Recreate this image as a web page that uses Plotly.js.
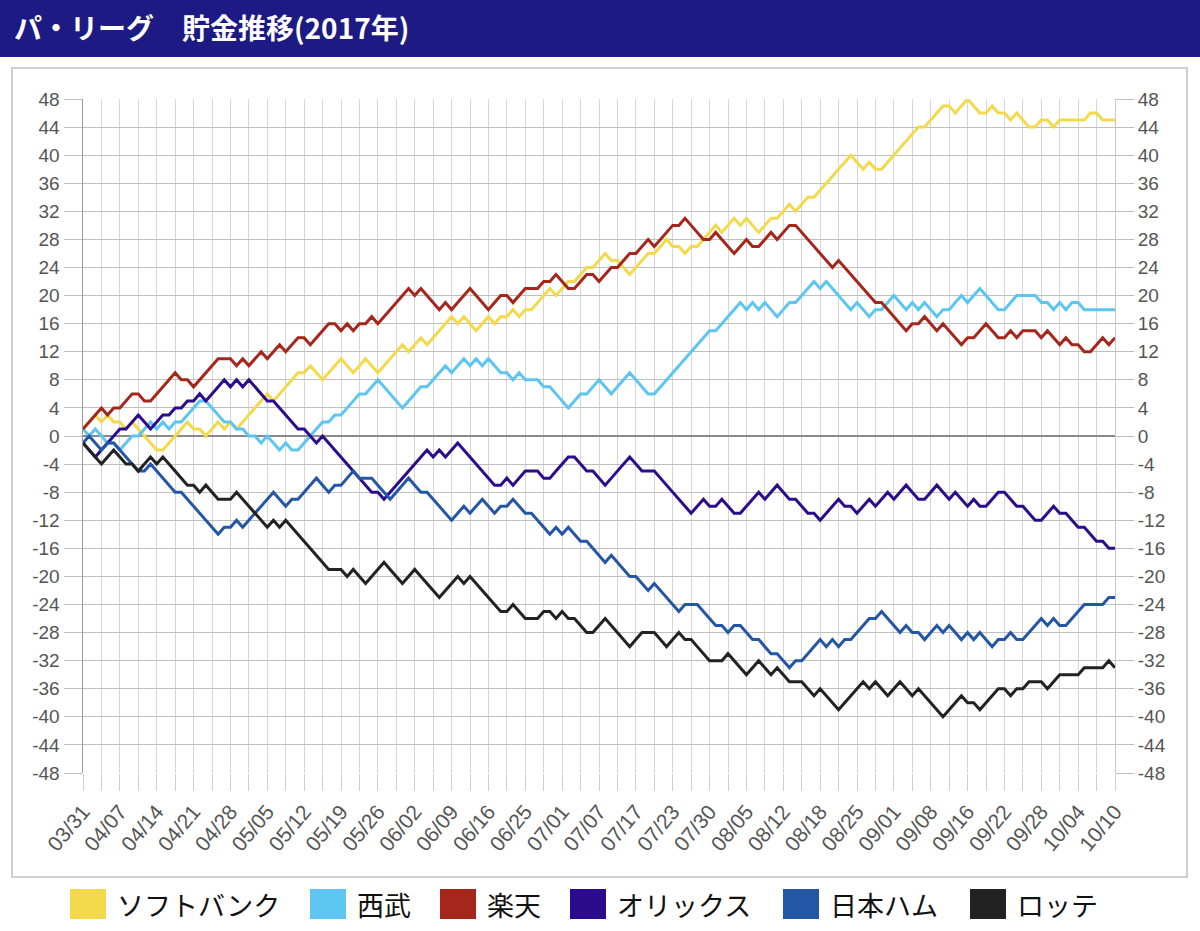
<!DOCTYPE html>
<html>
<head>
<meta charset="utf-8">
<script src="https://cdn.plot.ly/plotly-3.0.1.min.js"></script>
<style>
html,body{margin:0;padding:0;background:#fff;}
#chart{width:1200px;height:931px;}
</style>
</head>
<body>
<div id="chart"></div>
<script>
// ---- data ----
const titleText = "パ・リーグ　貯金推移(2017年)";
const dateLabels = ["03/31","04/07","04/14","04/21","04/28","05/05","05/12","05/19","05/26","06/02",
  "06/09","06/16","06/25","07/01","07/07","07/17","07/23","07/30","08/05","08/12",
  "08/18","08/25","09/01","09/08","09/16","09/22","09/28","10/04","10/10"];
const teamNames = ["ソフトバンク","西武","楽天","オリックス","日本ハム","ロッテ"];
const yTicks = [-48,-44,-40,-36,-32,-28,-24,-20,-16,-12,-8,-4,0,4,8,12,16,20,24,28,32,36,40,44,48];

const softbank = [
  1,2,3,2,3,2,2,1,2,1,
  0,-1,-2,-2,-1,0,1,2,1,1,
  0,1,2,1,2,1,2,3,4,5,
  6,5,6,7,8,9,9,10,9,8,
  9,10,11,10,9,10,11,10,9,10,
  11,12,13,12,13,14,13,14,15,16,
  17,16,17,16,15,16,17,16,17,17,
  18,17,18,18,19,20,21,20,21,22,
  22,23,24,24,25,26,25,25,24,23,
  24,25,26,26,27,28,27,27,26,27,
  27,28,29,30,29,30,31,30,31,30,
  29,30,31,31,32,33,32,33,34,34,
  35,36,37,38,39,40,39,38,39,38,
  38,39,40,41,42,43,44,44,45,46,
  47,47,46,47,48,47,46,46,47,46,
  46,45,46,45,44,44,45,45,44,45,
  45,45,45,45,46,46,45,45,45];
const seibu = [
  1,0,1,0,-1,-1,-2,-1,0,0,
  1,2,1,2,1,2,2,3,4,5,
  5,4,3,2,2,1,1,0,0,-1,
  0,-1,-2,-1,-2,-2,-1,0,1,2,
  2,3,3,4,5,6,6,7,8,7,
  6,5,4,5,6,7,7,8,9,10,
  9,10,11,10,11,10,11,10,9,9,
  8,9,8,8,8,7,7,6,5,4,
  5,6,6,7,8,7,6,7,8,9,
  8,7,6,6,7,8,9,10,11,12,
  13,14,15,15,16,17,18,19,18,19,
  18,19,18,17,18,19,19,20,21,22,
  21,22,21,20,19,18,19,18,17,18,
  18,19,20,19,18,19,18,19,18,17,
  18,18,19,20,19,20,21,20,19,18,
  18,19,20,20,20,20,19,19,18,19,
  18,19,19,18,18,18,18,18,18];
const rakuten = [
  1,2,3,4,3,4,4,5,6,6,
  5,5,6,7,8,9,8,8,7,8,
  9,10,11,11,11,10,11,10,11,12,
  11,12,13,12,13,14,14,13,14,15,
  16,16,15,16,15,16,16,17,16,17,
  18,19,20,21,20,21,20,19,18,19,
  18,19,20,21,20,19,18,19,20,20,
  19,20,21,21,21,22,22,23,22,21,
  21,22,23,23,22,23,24,24,25,26,
  26,27,28,27,28,29,30,30,31,30,
  29,28,28,29,28,27,26,27,28,27,
  27,28,29,28,29,30,30,29,28,27,
  26,25,24,25,24,23,22,21,20,19,
  19,18,17,16,15,16,16,17,16,15,
  16,15,14,13,14,14,15,16,15,14,
  14,15,14,15,15,15,14,15,14,13,
  14,13,13,12,12,13,14,13,14];
const orix = [
  -1,-2,-3,-2,-1,0,1,1,2,3,
  2,1,2,3,3,4,4,5,5,6,
  5,6,7,8,7,8,7,8,7,6,
  5,5,4,3,2,1,1,0,-1,0,
  -1,-2,-3,-4,-5,-6,-7,-8,-8,-9,
  -8,-7,-6,-5,-4,-3,-2,-3,-2,-3,
  -2,-1,-2,-3,-4,-5,-6,-7,-7,-6,
  -7,-6,-5,-5,-5,-6,-6,-5,-4,-3,
  -3,-4,-5,-5,-6,-7,-6,-5,-4,-3,
  -4,-5,-5,-5,-6,-7,-8,-9,-10,-11,
  -10,-9,-10,-10,-9,-10,-11,-11,-10,-9,
  -8,-9,-8,-7,-8,-9,-9,-10,-11,-11,
  -12,-11,-10,-9,-10,-10,-11,-10,-9,-10,
  -9,-8,-9,-8,-7,-8,-9,-9,-8,-7,
  -8,-9,-8,-9,-10,-9,-10,-10,-9,-8,
  -8,-9,-10,-10,-11,-12,-12,-11,-10,-11,
  -11,-12,-13,-13,-14,-15,-15,-16,-16];
const nipponham = [
  -1,0,-1,-2,-1,-1,-2,-3,-4,-5,
  -5,-4,-5,-6,-7,-8,-8,-9,-10,-11,
  -12,-13,-14,-13,-13,-12,-13,-12,-11,-10,
  -9,-8,-9,-10,-9,-9,-8,-7,-6,-7,
  -8,-7,-7,-6,-5,-6,-6,-6,-7,-8,
  -9,-8,-7,-6,-7,-8,-8,-9,-10,-11,
  -12,-11,-10,-11,-10,-9,-10,-11,-10,-10,
  -9,-10,-11,-11,-12,-13,-14,-13,-14,-13,
  -14,-15,-15,-16,-17,-18,-17,-18,-19,-20,
  -20,-21,-22,-21,-22,-23,-24,-25,-24,-24,
  -24,-25,-26,-27,-27,-28,-27,-27,-28,-29,
  -29,-30,-31,-31,-32,-33,-32,-32,-31,-30,
  -29,-30,-29,-30,-29,-29,-28,-27,-26,-26,
  -25,-26,-27,-28,-27,-28,-28,-29,-28,-27,
  -28,-27,-28,-29,-28,-29,-28,-29,-30,-29,
  -29,-28,-29,-29,-28,-27,-26,-27,-26,-27,
  -27,-26,-25,-24,-24,-24,-24,-23,-23];
const lotte = [
  -1,-2,-3,-4,-3,-2,-3,-4,-4,-5,
  -4,-3,-4,-3,-4,-5,-6,-7,-7,-8,
  -7,-8,-9,-9,-9,-8,-9,-10,-11,-12,
  -13,-12,-13,-12,-13,-14,-15,-16,-17,-18,
  -19,-19,-19,-20,-19,-20,-21,-20,-19,-18,
  -19,-20,-21,-20,-19,-20,-21,-22,-23,-22,
  -21,-20,-21,-20,-21,-22,-23,-24,-25,-25,
  -24,-25,-26,-26,-26,-25,-25,-26,-25,-26,
  -26,-27,-28,-28,-27,-26,-27,-28,-29,-30,
  -29,-28,-28,-28,-29,-30,-29,-28,-29,-29,
  -30,-31,-32,-32,-32,-31,-32,-33,-34,-33,
  -32,-33,-34,-33,-34,-35,-35,-35,-36,-37,
  -36,-37,-38,-39,-38,-37,-36,-35,-36,-35,
  -36,-37,-36,-35,-36,-37,-36,-37,-38,-39,
  -40,-39,-38,-37,-38,-38,-39,-38,-37,-36,
  -36,-37,-36,-36,-35,-35,-35,-36,-35,-34,
  -34,-34,-34,-33,-33,-33,-33,-32,-33];

// ---- styles / layout constants ----
const teamColors = ["#f3d94b","#5cc5f1","#a5261b","#2c0b8c","#2456a6","#222222"];
const series = [softbank, seibu, rakuten, orix, nipponham, lotte];

const W = 1200, H = 931;
const ML = 83, MR = 85, MT = 99, MB = 158;
const PW = W - ML - MR, PH = H - MT - MB;
const px = x => (x - ML) / PW;
const py = y => (MT + PH - y) / PH;

const nPts = softbank.length;
const gameIdx = softbank.map((_, i) => i);
const tickVals = [], tickText = [];
for (let k = 0; k * 3 <= nPts - 1; k++) {
  tickVals.push(k * 3);
  tickText.push(k % 2 === 0 ? dateLabels[k / 2] : "");
}

const traces = series.map((s, i) => ({
  x: gameIdx, y: s, type: "scatter", mode: "lines",
  name: teamNames[i], line: {color: teamColors[i], width: 3},
  hoverinfo: "skip", showlegend: false
}));
traces.push({x: [0, nPts - 1], y: [null, null], yaxis: "y2", type: "scatter",
  mode: "lines", showlegend: false, hoverinfo: "skip"});

const yTickFont = {family: "Liberation Sans, Arial, sans-serif", size: 19, color: "#555"};
const xTickFont = {family: "Liberation Sans, Arial, sans-serif", size: 21, color: "#555"};
const jpFont = "Noto Sans CJK JP, sans-serif";

const shapes = [
  {type: "rect", xref: "paper", yref: "paper", x0: px(0), x1: px(W), y0: py(57), y1: py(0),
   fillcolor: "#1d1a83", line: {width: 0}, layer: "below"},
  {type: "rect", xref: "paper", yref: "paper", x0: px(12), x1: px(1187), y0: py(877), y1: py(68),
   fillcolor: "rgba(0,0,0,0)", line: {color: "#cfcfcf", width: 2}, layer: "below"}
];
const annotations = [];
const legendSquareX = [70, 310, 440, 570, 783, 970];
teamNames.forEach((n, i) => {
  const x0 = legendSquareX[i];
  shapes.push({type: "rect", xref: "paper", yref: "paper",
    x0: px(x0), x1: px(x0 + 36), y0: py(919), y1: py(889),
    fillcolor: teamColors[i], line: {width: 0}});
  annotations.push({xref: "paper", yref: "paper", x: px(x0 + 45), y: py(904),
    xanchor: "left", yanchor: "middle", showarrow: false, text: n,
    font: {family: jpFont, size: 27, color: "#111"}});
});

const layout = {
  width: W, height: H,
  margin: {l: ML, r: MR, t: MT, b: MB, pad: 0},
  paper_bgcolor: "#fff", plot_bgcolor: "#fff",
  showlegend: false,
  title: {text: "<b>" + titleText + "</b>", xref: "container", yref: "container",
    x: 14 / W, xanchor: "left", y: 1 - 29 / H, yanchor: "middle",
    font: {family: jpFont, size: 28, color: "#ffffff"}},
  xaxis: {range: [0, nPts - 1], tickmode: "array", tickvals: tickVals, ticktext: tickText,
    tickangle: -50, ticks: "outside", ticklen: 17, tickcolor: "#cccccc", tickwidth: 1,
    showgrid: true, gridcolor: "#d6d6d6", gridwidth: 1, zeroline: false, showline: false,
    tickfont: xTickFont, fixedrange: true},
  yaxis: {range: [-48, 48], tickmode: "array", tickvals: yTicks, ticktext: yTicks.map(String),
    ticks: "outside", ticklen: 18, tickcolor: "#bdbdbd", tickwidth: 1,
    showgrid: true, gridcolor: "#bfbfbf", gridwidth: 1,
    zeroline: true, zerolinecolor: "#8a8a8a", zerolinewidth: 1.5,
    showline: true, linecolor: "#9a9a9a", linewidth: 1.5,
    tickfont: yTickFont, fixedrange: true},
  yaxis2: {range: [-48, 48], overlaying: "y", side: "right", tickmode: "array",
    tickvals: yTicks, ticktext: yTicks.map(String),
    ticks: "outside", ticklen: 18, tickcolor: "#bdbdbd", tickwidth: 1,
    showgrid: false, zeroline: false, showline: true, linecolor: "#c8c8c8", linewidth: 1,
    tickfont: yTickFont, fixedrange: true},
  shapes: shapes,
  annotations: annotations
};

Plotly.newPlot("chart", traces, layout, {staticPlot: true, displayModeBar: false});
</script>
</body>
</html>
